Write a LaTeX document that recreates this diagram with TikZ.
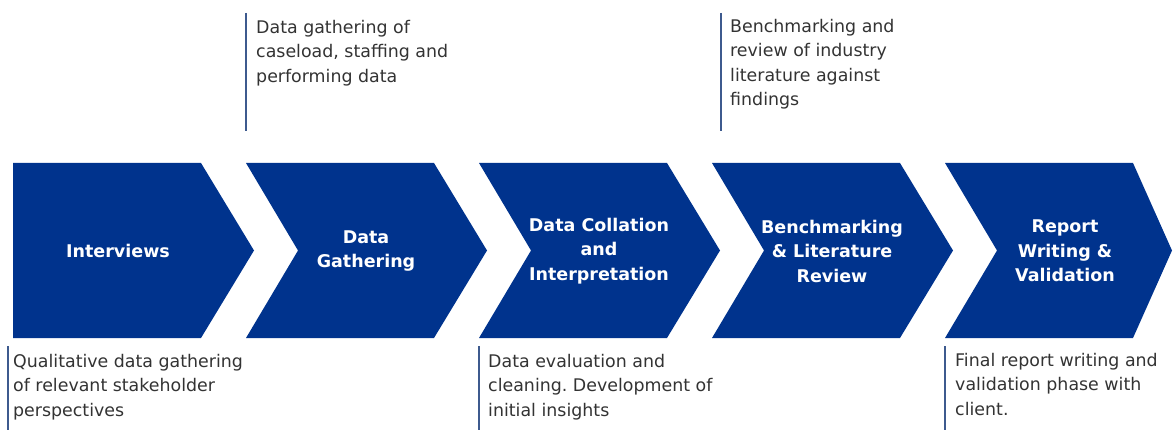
\documentclass[tikz,border=0pt]{standalone}
\usepackage{fontspec}
\newfontfamily\labelfont{DejaVu Sans}
\frenchspacing
\definecolor{kblue}{HTML}{00338D}
\definecolor{ktext}{HTML}{333333}
\definecolor{kline}{HTML}{3D5A8E}
\tikzset{
  chev/.style={fill=kblue, draw=none},
  chevlabel/.style={text=white, align=center, inner sep=0pt,
    font=\labelfont\bfseries\fontsize{17.5}{24.5}\selectfont},
  desc/.style={text=ktext, align=left, anchor=north west, inner sep=0pt,
    font=\labelfont\fontsize{17.4}{24.5}\selectfont},
  markline/.style={draw=kline, line width=1.3pt},
}
\begin{document}
\begin{tikzpicture}[x=1pt,y=-1pt]
\useasboundingbox (0,0) rectangle (1174,430);
% chevrons
\path[chev] (13,163) -- (201,163) -- (254,250.5) -- (201,338) -- (13,338) -- cycle;
\foreach \L in {246,479,712}{
  \path[chev] (\L,163) -- ({\L+188},163) -- ({\L+241},250.5) -- ({\L+188},338) -- (\L,338) -- ({\L+52},250.5) -- cycle;
}
\path[chev] (945,163) -- (1133,163) -- (1172,250.5) -- (1133,338) -- (945,338) -- (997,250.5) -- cycle;
% labels
\node[chevlabel] (c1) at (118,251) {Interviews};
\node[chevlabel] (c2) at (366,251) {Data\\Gathering};
\node[chevlabel] (c3) at (599,251) {Data Collation\\and\\Interpretation};
\node[chevlabel] (c4) at (832,251) {Benchmarking\\\& Literature\\Review};
\node[chevlabel] (c5) at (1065,251) {Report\\Writing \&\\Validation};
% marker lines
\coordinate (m1a) at (8,346);   \coordinate (m1b) at (8,430);
\coordinate (m2a) at (246,13);  \coordinate (m2b) at (246,131);
\coordinate (m3a) at (479,346); \coordinate (m3b) at (479,430);
\coordinate (m4a) at (721,13);  \coordinate (m4b) at (721,131);
\coordinate (m5a) at (945,346); \coordinate (m5b) at (945,430);
\draw[markline] (m1a) -- (m1b);
\draw[markline] (m2a) -- (m2b);
\draw[markline] (m3a) -- (m3b);
\draw[markline] (m4a) -- (m4b);
\draw[markline] (m5a) -- (m5b);
% descriptions
\node[desc] (d1) at (13,354) {Qualitative data gathering\\of relevant stakeholder\\perspectives};
\node[desc] (d2) at (256,20) {Data gathering of\\caseload, staffing and\\performing data};
\node[desc] (d3) at (488,354) {Data evaluation and\\cleaning. Development of\\initial insights};
\node[desc] (d4) at (730,19) {Benchmarking and\\review of industry\\literature against\\findings};
\node[desc] (d5) at (955,353) {Final report writing and\\validation phase with\\client.};
\end{tikzpicture}
\end{document}
